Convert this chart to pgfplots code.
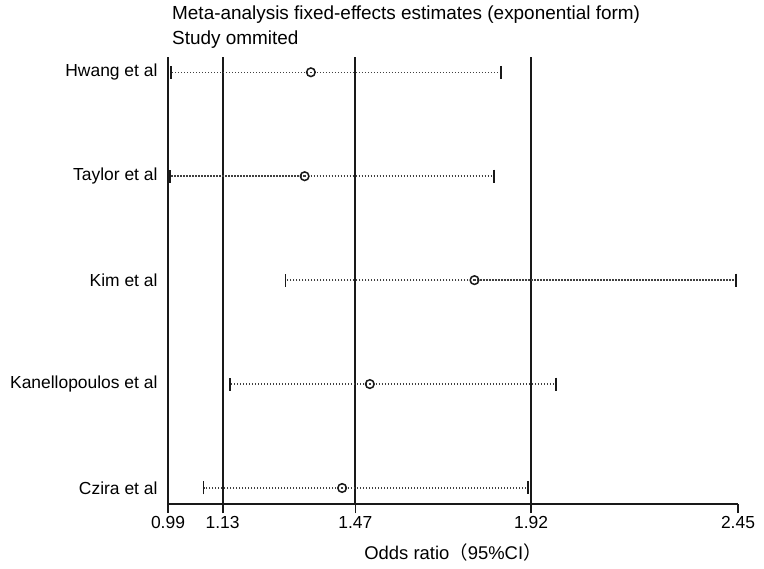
\documentclass[border=0pt]{standalone}
\usepackage{pgfplots}
\pgfplotsset{compat=1.18}
\usepackage{pgfplotstable}
\usepackage{fontspec}
\setmainfont{Liberation Sans}
\newfontfamily\cjk{Noto Sans CJK SC}
\pgfplotstableread{
y  or    lo    hi
5  1.356 0.998 1.843
4  1.340 0.996 1.824
3  1.775 1.291 2.444
2  1.507 1.149 1.984
1  1.436 1.081 1.913
}\sens
\pgfplotstablecreatecol[expr={\thisrow{or}-\thisrow{lo}}]{em}{\sens}
\pgfplotstablecreatecol[expr={\thisrow{hi}-\thisrow{or}}]{ep}{\sens}
\begin{document}
\begin{tikzpicture}
\begin{axis}[
  at={(0,0)}, anchor=south west,
  scale only axis, width=570bp, height=447bp,
  xmin=0.99, xmax=2.45, ymin=0.846, ymax=5.147,
  axis x line=bottom, axis y line=left,
  axis line style={-, line width=1.7bp, black!90},
  xtick={0.99,1.13,1.47,1.92,2.45},
  xticklabels={0.99,1.13,1.47,1.92,2.45},
  tick align=outside,
  major tick length=9bp,
  x tick style={line width=1.7bp, black!90},
  extra x ticks={1.13,1.47,1.92},
  extra x tick labels={},
  extra x tick style={grid=major, major grid style={black!90, line width=1.8bp}},
  ytick={1,2,3,4,5},
  yticklabels={Czira et al, Kanellopoulos et al, Kim et al, Taylor et al, Hwang et al},
  y tick style={draw=none},
  yticklabel style={xshift=2bp},
  tick label style={font=\fontsize{17.5}{20}\selectfont},
  /pgf/number format/assume math mode=true,
  xlabel={Odds ratio{\cjk （}95\%CI{\cjk ）}},
  xlabel style={font=\fontsize{18.5}{21}\selectfont, yshift=10bp},
  clip=false,
]
\addplot[only marks, mark=o, mark size=4.3bp,
  mark options={line width=1.5bp, fill=white, draw=black!90},
  error bars/.cd, x dir=both, x explicit,
  error bar style={dash pattern=on 1.2bp off 1.8bp, line width=1.5bp, black!75},
  error mark=|,
  error mark options={solid, line width=1.8bp, mark size=6.5bp, black!90},
] table[x=or, y=y, x error plus=ep, x error minus=em]{\sens};
\end{axis}
\node[anchor=west, font=\fontsize{19}{22}\selectfont, inner sep=0] at (4bp,489bp) {Meta-analysis fixed-effects estimates (exponential form)};
\node[anchor=west, font=\fontsize{19}{22}\selectfont, inner sep=0] at (4bp,464bp) {Study ommited};
\pgfresetboundingbox
\path[use as bounding box] (-168bp,-65bp) rectangle (596bp,504bp);
\end{tikzpicture}
\end{document}
